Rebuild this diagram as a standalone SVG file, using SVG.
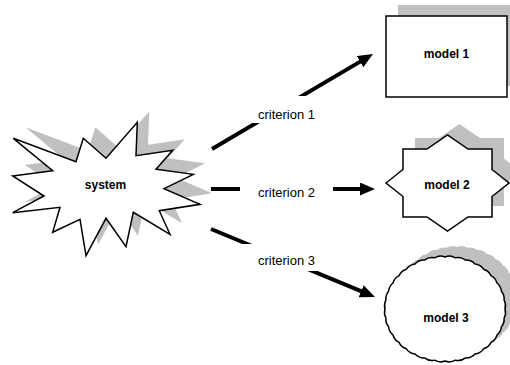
<svg xmlns="http://www.w3.org/2000/svg" width="510" height="365" viewBox="0 0 510 365">
  <style>
    .shadow { fill: #c0c0c0; stroke: none; }
    .shape { fill: #ffffff; stroke: #000000; stroke-width: 1.5; stroke-linejoin: miter; }
    .title { font-family: "Liberation Sans", Arial, sans-serif; font-size: 12px; font-weight: bold; fill: #000000; text-anchor: middle; }
    .edge { stroke: #000000; stroke-width: 4; fill: none; marker-end: url(#head); }
    .label-bg { fill: #ffffff; stroke: none; }
    .label { font-family: "Liberation Sans", Arial, sans-serif; font-size: 13px; fill: #000000; text-anchor: middle; }
  </style>
  <defs>
    <marker id="head" markerUnits="userSpaceOnUse" markerWidth="15" markerHeight="13" refX="7" refY="6.5" orient="auto">
      <path d="M0,0 L15,6.5 L0,13 z" fill="#000000"/>
    </marker>
    <polygon id="burst" points="13.3,138.3 76,161.7 83.3,138.3 106,158.3 137.3,122.3 136,155.7 172.7,150.3 156,169.3 193.3,174.3 164,188.7 200,204.3 159.3,210.7 170,234.3 133.3,212.3 126,246.7 106,218.3 86,255.7 80,219.3 52.7,232.3 60,207.3 12.7,212.7 44,196 12.7,176 52.7,170.7"/>
    <polygon id="star8" points="386,183 403,169.5 403,149 427,149 447.5,135 468,149 492,149 492,169.5 509,183 492,196.5 492,217 468,217 447.5,231 427,217 403,217 403,196.5"/>
    <path id="wavy" d="M505,309 A12,12 0 0 1 504.1,318 A12,12 0 0 1 501.4,326.8 A12,12 0 0 1 497,335 A12,12 0 0 1 491,342.4 A12,12 0 0 1 483.6,348.8 A12,12 0 0 1 475,354 A12,12 0 0 1 465.5,357.9 A12,12 0 0 1 455.4,360.2 A12,12 0 0 1 445,361 A12,12 0 0 1 434.6,360.2 A12,12 0 0 1 424.5,357.9 A12,12 0 0 1 415,354 A12,12 0 0 1 406.4,348.8 A12,12 0 0 1 399,342.4 A12,12 0 0 1 393,335 A12,12 0 0 1 388.6,326.8 A12,12 0 0 1 385.9,318 A12,12 0 0 1 385,309 A12,12 0 0 1 385.9,300 A12,12 0 0 1 388.6,291.2 A12,12 0 0 1 393,283 A12,12 0 0 1 399,275.6 A12,12 0 0 1 406.4,269.2 A12,12 0 0 1 415,264 A12,12 0 0 1 424.5,260.1 A12,12 0 0 1 434.6,257.8 A12,12 0 0 1 445,257 A12,12 0 0 1 455.4,257.8 A12,12 0 0 1 465.5,260.1 A12,12 0 0 1 475,264 A12,12 0 0 1 483.6,269.2 A12,12 0 0 1 491,275.6 A12,12 0 0 1 497,283 A12,12 0 0 1 501.4,291.2 A12,12 0 0 1 504.1,300 A12,12 0 0 1 505,309 Z"/>
  </defs>

  <rect width="510" height="365" fill="#ffffff"/>

  <!-- connectors with their labels -->
  <g id="connectors">
    <line class="edge" x1="212" y1="149" x2="366.1" y2="58.1"/>
    <line class="edge" x1="211" y1="189" x2="367" y2="189"/>
    <line class="edge" x1="211" y1="229" x2="367.6" y2="293.9"/>

    <rect class="label-bg" x="240" y="96" width="93" height="27"/>
    <text class="label" x="286.5" y="119">criterion 1</text>

    <rect class="label-bg" x="240" y="178" width="93" height="27"/>
    <text class="label" x="286.5" y="197">criterion 2</text>

    <rect class="label-bg" x="240" y="244" width="93" height="27"/>
    <text class="label" x="286.5" y="265">criterion 3</text>
  </g>

  <!-- source: explosion shape -->
  <g id="system">
    <use href="#burst" class="shadow" transform="translate(12,-11)"/>
    <use href="#burst" class="shape"/>
    <text class="title" x="105.5" y="189">system</text>
  </g>

  <!-- target: rectangle -->
  <g id="model1">
    <rect class="shadow" x="398" y="5" width="121" height="81"/>
    <rect class="shape" x="386" y="16" width="121" height="81"/>
    <text class="title" x="446.5" y="58">model 1</text>
  </g>

  <!-- target: eight-point star -->
  <g id="model2">
    <use href="#star8" class="shadow" transform="translate(12,-11)"/>
    <use href="#star8" class="shape"/>
    <text class="title" x="447" y="189">model 2</text>
  </g>

  <!-- target: rippled ellipse -->
  <g id="model3">
    <use href="#wavy" class="shadow" transform="translate(12,-10)"/>
    <use href="#wavy" class="shape"/>
    <text class="title" x="446" y="322">model 3</text>
  </g>
</svg>
